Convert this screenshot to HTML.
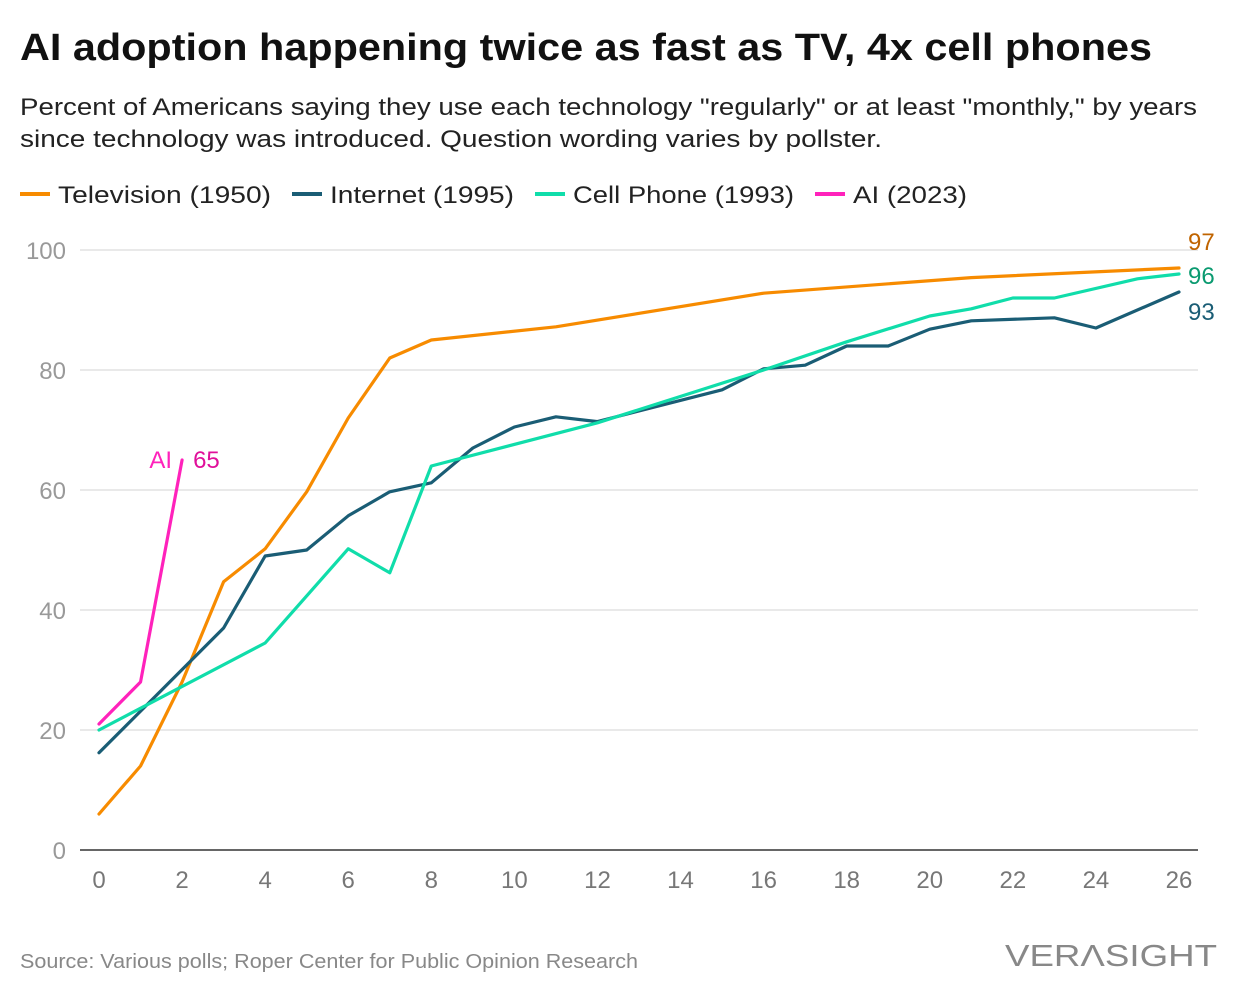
<!DOCTYPE html>
<html><head><meta charset="utf-8"><style>
body{margin:0;background:#fff;font-family:"Liberation Sans",sans-serif;}
#wrap{position:relative;width:1240px;height:996px;overflow:hidden}
</style></head><body>
<div id="wrap">
<svg id="chart" width="1240" height="996" xmlns="http://www.w3.org/2000/svg">
<text x="20" y="60" font-size="38" font-weight="bold" fill="#111" textLength="1132" lengthAdjust="spacingAndGlyphs">AI adoption happening twice as fast as TV, 4x cell phones</text>
<text x="20" y="115" font-size="24" fill="#222" textLength="1177" lengthAdjust="spacingAndGlyphs">Percent of Americans saying they use each technology "regularly" or at least "monthly," by years</text>
<text x="20" y="147" font-size="24" fill="#222" textLength="862" lengthAdjust="spacingAndGlyphs">since technology was introduced. Question wording varies by pollster.</text>
<g id="legend"></g>
<g id="grid"></g><g id="lines"></g><g id="labels"></g>
<text x="20" y="968" font-size="20" fill="#888" textLength="618" lengthAdjust="spacingAndGlyphs">Source: Various polls; Roper Center for Public Opinion Research</text>
<text x="1005" y="966" font-size="31" fill="#888" textLength="212" lengthAdjust="spacingAndGlyphs">VERΛSIGHT</text>
</svg></div>
<script>
const tvX=[0,1,2,3,4,5,6,7,8,11,16,21,26];
const tvY=[6,14,28,44.7,50.2,59.7,72,82,85,87.2,92.8,95.4,97];
const netX=[0,3,4,5,6,7,8,9,10,11,12,15,16,17,18,19,20,21,23,24,26];
const netY=[16.2,37,49,50,55.7,59.7,61.2,67,70.5,72.2,71.4,76.7,80.2,80.8,84,84,86.8,88.2,88.7,87,93];
const cellX=[0,4,6,7,8,12,16,18,20,21,22,23,25,26];
const cellY=[20,34.5,50.2,46.2,64,71.2,80,84.7,89,90.2,92,92,95.2,96];
const aiX=[0,1,2];
const aiY=[21,28,65];
const yTicks=[0,20,40,60,80,100];
const xTicks=[0,2,4,6,8,10,12,14,16,18,20,22,24,26];
const legendNames=["Television (1950)","Internet (1995)","Cell Phone (1993)","AI (2023)"];
const NS="http://www.w3.org/2000/svg";
const X=v=>99+v*(1080/26), Y=v=>850-v*6;
function mk(t,a,p){const e=document.createElementNS(NS,t);for(const k in a)e.setAttribute(k,a[k]);p.appendChild(e);return e;}
const grid=document.getElementById('grid');
yTicks.forEach(t=>{
 if(t>0){const l=mk('line',{x1:80,x2:1198,y1:Y(t),y2:Y(t),stroke:'#e2e2e2','stroke-width':1.5},grid);
 
 }
 const tx=mk('text',{x:66,y:Y(t)+9,'font-size':24,fill:'#999','text-anchor':'end'},grid);tx.textContent=t;
 
 
});
const ax=mk('line',{x1:80,x2:1198,y1:850,y2:850,stroke:'#333','stroke-width':1.5},grid);


xTicks.forEach(t=>{const tx=mk('text',{x:X(t),y:888,'font-size':24,fill:'#777','text-anchor':'middle'},grid);tx.textContent=t;
 
 });
const series=[[tvX,tvY,'#f78b00','television-line'],[netX,netY,'#1a5d75','internet-line'],[cellX,cellY,'#10ddaa','cell-phone-line'],[aiX,aiY,'#ff22bb','ai-line']];
const lines=document.getElementById('lines');
series.forEach(s=>{const p=mk('polyline',{points:s[0].map((x,i)=>X(x)+','+Y(s[1][i])).join(' '),fill:'none',stroke:s[2],'stroke-width':3.2,'stroke-linejoin':'round','stroke-linecap':'round'},lines);
 
 });
const lab=document.getElementById('labels');
function L(x,y,t,c,n,a){const e=mk('text',{x:x,y:y,'font-size':24,fill:c,'text-anchor':a||'start'},lab);e.textContent=t;
 
 }
L(1188,Y(tvY[tvY.length-1])-18,tvY[tvY.length-1].toFixed(0),'#c06400','tv-end-label');
L(1188,Y(cellY[cellY.length-1])+10,cellY[cellY.length-1].toFixed(0),'#0a9a70','cell-end-label');
L(1188,Y(netY[netY.length-1])+28,netY[netY.length-1].toFixed(0),'#1a5d75','internet-end-label');
L(X(2)+11,Y(aiY[2])+8,aiY[2],'#e0109a','ai-end-label');
L(X(2)-10,Y(aiY[2])+8,'AI','#ff22bb','ai-name-label','end');
const leg=document.getElementById('legend');
const lx=[20,292,535,815];
const tw=[213,184,221,114];
legendNames.forEach((n,i)=>{const g=mk('g',{},leg);
 
 
 mk('line',{x1:lx[i],x2:lx[i]+30,y1:194,y2:194,stroke:series[i][2],'stroke-width':4},g);
 const t=mk('text',{x:lx[i]+38,y:203,'font-size':24,fill:'#222',textLength:tw[i],lengthAdjust:'spacingAndGlyphs'},g);t.textContent=n;});
</script>
</body></html>
